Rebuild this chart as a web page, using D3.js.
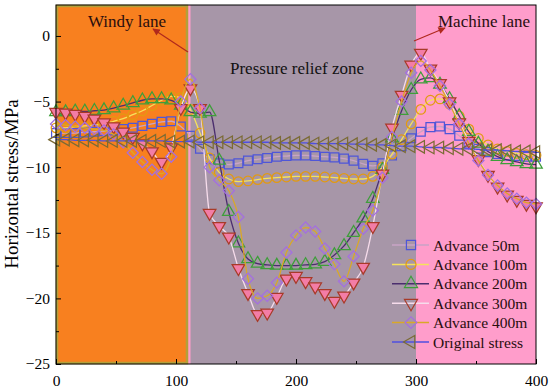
<!DOCTYPE html>
<html>
<head>
<meta charset="utf-8">
<title>Horizontal stress</title>
<script src="https://d3js.org/d3.v7.min.js"></script>
<style>
  body { margin: 0; background: #fff; }
  text { font-family: "Liberation Serif", "Times New Roman", serif; }
</style>
</head>
<body>
<div id="vis"></div>
<script>
// distance along the measuring line (m)
const dist = [0, 8, 16, 24, 32, 40, 48, 56, 64, 72, 80, 88, 96, 104, 112, 120, 128, 136, 144, 152,
  160, 168, 176, 184, 192, 200, 208, 216, 224, 232, 240, 248, 256, 264, 272, 280, 288, 296, 304, 312,
  320, 328, 336, 344, 352, 360, 368, 376, 384, 392, 400];

const adv50 = [-7.4, -7.4, -7.4, -7.35, -7.3, -7.25, -7.2, -7.1, -7.0, -6.85, -6.7, -6.55, -6.5, -6.9, -7.6, -8.6, -9.4, -9.7, -9.8, -9.7,
  -9.5, -9.4, -9.3, -9.2, -9.15, -9.1, -9.1, -9.15, -9.2, -9.25, -9.35, -9.5, -9.75, -9.9, -9.7, -9.1, -8.4, -7.8, -7.3, -6.95,
  -6.9, -7.1, -7.6, -8.2, -8.6, -8.85, -9.0, -9.1, -9.15, -9.2, -9.2];

const adv100 = [-7.0, -7.0, -6.9, -6.85, -6.8, -6.7, -6.5, -6.3, -6.0, -5.7, -5.3, -4.9, -4.6, -4.7, -5.6, -7.4, -9.3, -10.4, -10.9, -11.1,
  -11.05, -10.95, -10.85, -10.8, -10.75, -10.7, -10.7, -10.7, -10.75, -10.8, -10.85, -10.9, -10.9, -10.7, -10.0, -9.0, -7.9, -6.7, -5.6, -4.9,
  -4.8, -5.2, -6.1, -7.1, -7.8, -8.3, -8.6, -8.8, -8.95, -9.05, -9.1];

const adv200 = [-5.8, -5.8, -5.75, -5.75, -5.7, -5.65, -5.5, -5.3, -5.1, -4.9, -4.8, -4.8, -4.9, -5.3, -5.8, -5.9, -5.8, -9.5, -13.4, -15.8,
  -17.0, -17.35, -17.45, -17.5, -17.5, -17.5, -17.45, -17.4, -17.2, -16.7, -16.0, -15.0, -13.9, -12.4, -10.2, -7.8, -5.7, -4.1, -3.3, -3.2,
  -3.7, -4.8, -6.1, -7.3, -8.2, -8.8, -9.2, -9.45, -9.6, -9.75, -9.8];

const adv300 = [-5.8, -5.85, -5.95, -6.1, -6.3, -6.6, -6.9, -7.3, -7.7, -8.2, -8.8, -9.6, -8.5, -5.5, -4.0, -5.5, -13.5, -14.5, -15.3, -17.7,
  -19.6, -21.2, -21.1, -19.9, -18.5, -18.3, -18.7, -19.1, -19.6, -20.2, -19.8, -18.8, -17.6, -14.5, -10.5, -7.0, -4.5, -2.2, -1.3, -2.5,
  -3.6, -5.0, -6.6, -8.0, -9.4, -10.6, -11.5, -12.1, -12.5, -12.8, -13.0];

const adv400 = [-6.7, -6.8, -6.9, -7.0, -7.1, -7.2, -7.5, -8.1, -8.9, -9.6, -10.2, -10.5, -9.2, -5.0, -3.3, -5.5, -10.0, -11.0, -11.8, -13.8,
  -18.5, -20.0, -19.8, -18.8, -16.5, -15.2, -14.6, -14.9, -16.2, -17.4, -18.7, -16.8, -14.7, -13.3, -10.8, -7.7, -5.0, -2.8, -1.9, -2.6,
  -3.8, -5.2, -6.7, -8.2, -9.5, -10.6, -11.4, -12.0, -12.4, -12.7, -12.8];

const original = [-7.9, -7.9, -7.95, -7.95, -7.95, -8.0, -8.0, -8.0, -8.0, -8.0, -8.0, -8.0, -8.05, -8.05, -8.05, -8.1, -8.1, -8.1, -8.1, -8.1,
  -8.1, -8.1, -8.1, -8.15, -8.15, -8.15, -8.15, -8.2, -8.2, -8.2, -8.2, -8.25, -8.25, -8.3, -8.3, -8.35, -8.4, -8.4, -8.45, -8.5,
  -8.5, -8.55, -8.6, -8.6, -8.65, -8.7, -8.7, -8.75, -8.8, -8.8, -8.85];

const seriesNames = ["Advance 50m", "Advance 100m", "Advance 200m", "Advance 300m", "Advance 400m", "Original stress"];

// zones along the line
const zoneStarts = [0, 110, 300];
const zoneEnds = [110, 300, 400];

const xTicks = [0, 100, 200, 300, 400];
const yTicks = [-25, -20, -15, -10, -5, 0];

const width = 550;
const height = 389;

const svg = d3.select("#vis").append("svg").attr("width", width).attr("height", height);

const x = d3.scaleLinear().domain([0, 400]).range([56, 536]);
const y = d3.scaleLinear().domain([-25, 2.36]).range([364, 5]);

// background zones
const zoneColors = ["#F8801F", "#A796A8", "#FF9DCB"];
svg.append("rect").attr("x", x(zoneStarts[1])).attr("y", y(2.36)).attr("width", x(zoneEnds[2]) - x(zoneStarts[1])).attr("height", y(-25) - y(2.36)).attr("fill", zoneColors[2]);
svg.append("rect").attr("x", x(zoneStarts[1]) + 2.5).attr("y", y(2.36)).attr("width", x(zoneEnds[1]) - x(zoneStarts[1]) - 2.5).attr("height", y(-25) - y(2.36)).attr("fill", zoneColors[1]);
svg.append("rect").attr("x", x(zoneStarts[0]) + 1).attr("y", y(2.36) + 1).attr("width", x(zoneEnds[0]) - x(zoneStarts[0]) - 2).attr("height", y(-25) - y(2.36) - 2)
  .attr("fill", zoneColors[0]).attr("stroke", "#B3A03A").attr("stroke-width", 2.5);

// series styles
const styles = [
  {line: "#C9A3C6", mark: "#4F56D8", fill: "none", sym: d3.symbolSquare, size: 78, rot: 0},
  {line: "#F5E35A", mark: "#E39A10", fill: "none", sym: d3.symbolCircle, size: 72, rot: 0},
  {line: "#4B2E6E", mark: "#3E9E3A", fill: "none", sym: d3.symbolTriangle, size: 68, rot: 0},
  {line: "#F6DCEB", mark: "#A83A28", fill: "#F37DA6", sym: d3.symbolTriangle, size: 68, rot: 180},
  {line: "#D9A828", mark: "#A46FE0", fill: "none", sym: d3.symbolSquare, size: 62, rot: 45},
  {line: "#4F4FE0", mark: "#7B6B35", fill: "none", sym: d3.symbolTriangle, size: 68, rot: -90}
];
const allSeries = [adv50, adv100, adv200, adv300, adv400, original];

const line = d3.line().x(d => x(d[0])).y(d => y(d[1])).curve(d3.curveMonotoneX);

allSeries.forEach(function(vals, i) {
  const st = styles[i];
  const pts = dist.map((d, j) => [d, vals[j]]);
  const g = svg.append("g");
  g.append("path").datum(pts).attr("d", line).attr("fill", "none").attr("stroke", st.line).attr("stroke-width", 1.3);
  g.selectAll("path.m").data(pts).enter().append("path").attr("class", "m")
    .attr("d", d3.symbol().type(st.sym).size(st.size))
    .attr("transform", d => "translate(" + x(d[0]) + "," + y(d[1]) + ") rotate(" + st.rot + ")")
    .attr("fill", st.fill).attr("stroke", st.mark).attr("stroke-width", 1.25);
});

// frame
svg.append("rect").attr("x", 56).attr("y", 5).attr("width", 480).attr("height", 359)
  .attr("fill", "none").attr("stroke", "#000").attr("stroke-width", 1);

// axes, ticks pointing inward
const xAxis = svg.append("g").attr("transform", "translate(0,364)")
  .call(d3.axisBottom(x).tickValues(xTicks).tickSizeInner(-5).tickSizeOuter(0).tickPadding(11));
const xMinor = svg.append("g").attr("transform", "translate(0,364)")
  .call(d3.axisBottom(x).tickValues([50, 150, 250, 350]).tickSizeInner(-3).tickSizeOuter(0).tickFormat(""));
const yAxis = svg.append("g").attr("transform", "translate(56,0)")
  .call(d3.axisLeft(y).tickValues(yTicks).tickSizeInner(-5).tickSizeOuter(0).tickPadding(6));
const yMinor = svg.append("g").attr("transform", "translate(56,0)")
  .call(d3.axisLeft(y).tickValues([-22.5, -17.5, -12.5, -7.5, -2.5]).tickSizeInner(-3).tickSizeOuter(0).tickFormat(""));

[xAxis, xMinor, yAxis, yMinor].forEach(function(a) {
  a.select(".domain").remove();
  a.selectAll("line").attr("stroke", "#000");
  a.selectAll("text").attr("font-family", "Liberation Serif, serif").attr("font-size", 15.5).attr("fill", "#000");
});

// axis title
svg.append("text").attr("transform", "translate(18,184) rotate(-90)")
  .attr("text-anchor", "middle").attr("font-size", 19).text("Horizontal stress/MPa");

// annotations
svg.append("defs").append("marker").attr("id", "arr").attr("viewBox", "0 0 10 10")
  .attr("refX", 9).attr("refY", 5).attr("markerWidth", 7).attr("markerHeight", 6).attr("orient", "auto")
  .append("path").attr("d", "M0,0L10,5L0,10Z").attr("fill", "#B0281C");

svg.append("text").attr("x", 88).attr("y", 27).attr("font-size", 17).attr("fill", "#2A0E0E").text("Windy lane");
svg.append("line").attr("x1", 188).attr("y1", 52).attr("x2", 153).attr("y2", 29)
  .attr("stroke", "#B0281C").attr("stroke-width", 1.2).attr("marker-end", "url(#arr)");

svg.append("text").attr("x", 230).attr("y", 74).attr("font-size", 17).attr("fill", "#111").text("Pressure relief zone");

svg.append("text").attr("x", 438).attr("y", 27).attr("font-size", 17).attr("fill", "#2A0E0E").text("Machine lane");
svg.append("line").attr("x1", 414).attr("y1", 41).attr("x2", 445).attr("y2", 28)
  .attr("stroke", "#B0281C").attr("stroke-width", 1.2).attr("marker-end", "url(#arr)");

// legend
const legend = svg.append("g");
seriesNames.forEach(function(name, i) {
  const st = styles[i];
  const ly = 245 + i * 19.4;
  legend.append("line").attr("x1", 392).attr("x2", 429).attr("y1", ly).attr("y2", ly)
    .attr("stroke", st.line).attr("stroke-width", 1.5);
  legend.append("path").attr("d", d3.symbol().type(st.sym).size(st.size + 6))
    .attr("transform", "translate(411," + ly + ") rotate(" + st.rot + ")")
    .attr("fill", "none").attr("stroke", st.mark).attr("stroke-width", 1.2);
  legend.append("text").attr("x", 433).attr("y", ly + 5.5).attr("font-size", 15.5).attr("fill", "#2A0E0E").text(name);
});
</script>
</body>
</html>
